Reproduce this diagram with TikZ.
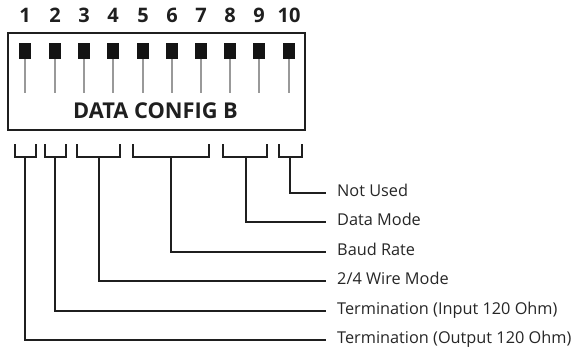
\documentclass[tikz,border=0pt]{standalone}
\usepackage{fontspec}
\setmainfont{Open Sans}
\begin{document}
\begin{tikzpicture}[x=1pt,y=-1pt,
  ink/.style={draw=black!88, line width=2pt},
  frame/.style={draw=black!88, line width=2.4pt},
  stem/.style={draw=black!40, line width=2pt},
  knob/.style={fill=black!92, draw=none, minimum width=12pt, minimum height=16pt, inner sep=0pt},
  num/.style={font=\bfseries\fontsize{20}{20}\selectfont, text=black!88, inner sep=0pt, text height=0.714em, text depth=0pt},
  title/.style={font=\bfseries\fontsize{21.8}{22}\selectfont, text=black!88, inner sep=0pt, text height=0.714em, text depth=0pt},
  lbl/.style={font=\fontsize{16.3}{17}\selectfont, text=black!85, anchor=west, inner ysep=0pt, inner xsep=0pt, text height=0.714em, text depth=0pt}
]
\useasboundingbox (0,0) rectangle (580,351);
% frame
\draw[frame] (8,33) rectangle (305,130);
\node[title] (ttl) at (155.5,114.5) {DATA CONFIG B};
% switches
\foreach \i/\x in {1/25,2/55,3/84,4/113,5/143,6/172,7/201,8/230,9/259,10/289}{
  \node[num] (n\i) at (\x,19) {\i};
  \node[knob] (k\i) at (\x,51) {};
  \coordinate (s\i) at (\x,93);
  \draw[stem] (k\i.south) -- (s\i);
}
% labels
\node[lbl] (l6) at (337,193) {Not Used};
\node[lbl] (l5) at (337,222) {Data Mode};
\node[lbl] (l4) at (337,252) {Baud Rate};
\node[lbl] (l3) at (337,281) {2/4 Wire Mode};
\node[lbl] (l2) at (337,311) {Termination (Input 120 Ohm)};
\node[lbl] (l1) at (337,340) {Termination (Output 120 Ohm)};
% brackets
\foreach \j/\a/\b/\m/\yy in {1/15/36/25/340,2/45/66/55/311,3/77/120/99/283,4/133/209/171/253,5/223/267/246/221,6/279/302/290/192}{
  \draw[ink] (\a,144) -- (\a,157) -- (\b,157) -- (\b,144);
  \coordinate (b\j) at (\m,157);
  \draw[ink] (b\j) |- ([xshift=-11pt]l\j.west);
}
\end{tikzpicture}
\end{document}
